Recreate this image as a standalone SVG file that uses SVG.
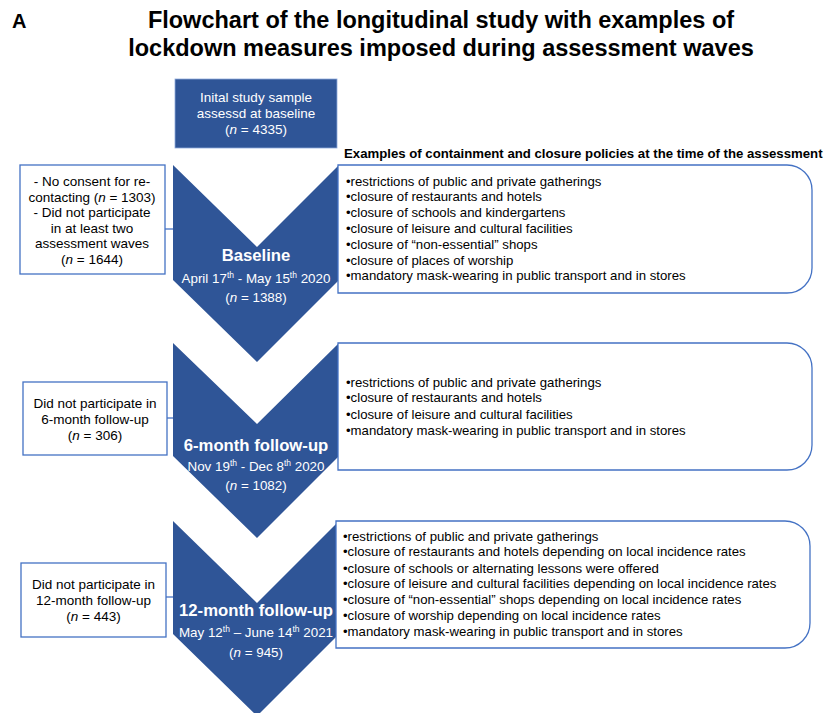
<svg xmlns="http://www.w3.org/2000/svg" width="827" height="713" viewBox="0 0 827 713">
<style>
text{font-family:"Liberation Sans",Arial,sans-serif;fill:#000}
.title{font-size:23.5px;font-weight:bold;text-anchor:middle}
.hdr{font-size:13.2px;font-weight:bold}
.li{font-size:13.2px}
.lb{font-size:13.5px;text-anchor:middle}
.w{fill:#fff;text-anchor:middle}
.wt{font-size:16.7px;font-weight:bold}
.wd{font-size:13.4px}
.chev{fill:#2F5597}
.box{fill:#fff;stroke:#4472C4;stroke-width:1.3}
.conn{stroke:#4472C4;stroke-width:1.3;fill:none}
</style>
<text x="12" y="28" font-size="20" font-weight="bold">A</text>
<text class="title" x="441" y="28">Flowchart of the longitudinal study with examples of</text>
<text class="title" x="441" y="56">lockdown measures imposed during assessment waves</text>

<g id="connectors">
<line class="conn" x1="165" y1="229" x2="174" y2="229"/>
<line class="conn" x1="167" y1="418" x2="174" y2="418"/>
<line class="conn" x1="166" y1="597" x2="174" y2="597"/>
</g>

<g id="start">
<rect x="175" y="79" width="162" height="69" fill="#2F5597" stroke="#8FAADC" stroke-width="0.8"/>
<text class="w" font-size="13.5" x="256" y="102">Inital study sample</text>
<text class="w" font-size="13.5" x="256" y="118">assessd at baseline</text>
<text class="w" font-size="13.5" x="256" y="134">(<tspan font-style="italic">n</tspan> = 4335)</text>
</g>

<text class="hdr" x="344" y="158">Examples of containment and closure policies at the time of the assessment</text>

<g id="baseline">
<polygon class="chev" points="173,165 257,247 339,165 339,280 257,362 173,280"/>
<text class="w wt" x="256" y="261">Baseline</text>
<text class="w wd" x="256" y="283">April 17<tspan font-size="8.5" dy="-5">th</tspan><tspan dy="5"> - May 15</tspan><tspan font-size="8.5" dy="-5">th</tspan><tspan dy="5"> 2020</tspan></text>
<text class="w wd" x="256" y="302">(<tspan font-style="italic">n</tspan> = 1388)</text>
</g>

<g id="followup6">
<polygon class="chev" points="173,343 257,424 339,343 339,456 257,538 173,456"/>
<text class="w wt" x="256" y="451">6-month follow-up</text>
<text class="w wd" x="256" y="471">Nov 19<tspan font-size="8.5" dy="-5">th</tspan><tspan dy="5"> - Dec 8</tspan><tspan font-size="8.5" dy="-5">th</tspan><tspan dy="5"> 2020</tspan></text>
<text class="w wd" x="256" y="490">(<tspan font-style="italic">n</tspan> = 1082)</text>
</g>

<g id="followup12">
<polygon class="chev" points="173,521 257,603 339,521 339,634 257,716 173,634"/>
<text class="w wt" x="256" y="616">12-month follow-up</text>
<text class="w wd" x="256" y="637">May 12<tspan font-size="8.5" dy="-5">th</tspan><tspan dy="5"> – June 14</tspan><tspan font-size="8.5" dy="-5">th</tspan><tspan dy="5"> 2021</tspan></text>
<text class="w wd" x="256" y="657">(<tspan font-style="italic">n</tspan> = 945)</text>
</g>

<g id="excl1">
<rect class="box" x="20" y="165" width="145" height="109"/>
<text class="lb" x="92" y="186">- No consent for re-</text>
<text class="lb" x="92" y="201.5">contacting (<tspan font-style="italic">n</tspan> = 1303)</text>
<text class="lb" x="92" y="217">- Did not participate</text>
<text class="lb" x="92" y="232.5">in at least two</text>
<text class="lb" x="92" y="248">assessment waves</text>
<text class="lb" x="92" y="264">(<tspan font-style="italic">n</tspan> = 1644)</text>
</g>

<g id="excl2">
<rect class="box" x="23" y="382" width="144" height="73"/>
<text class="lb" x="95" y="408">Did not participate in</text>
<text class="lb" x="95" y="424">6-month follow-up</text>
<text class="lb" x="95" y="440">(<tspan font-style="italic">n</tspan> = 306)</text>
</g>

<g id="excl3">
<rect class="box" x="21" y="563" width="145" height="74"/>
<text class="lb" x="93.5" y="589">Did not participate in</text>
<text class="lb" x="93.5" y="605">12-month follow-up</text>
<text class="lb" x="93.5" y="621">(<tspan font-style="italic">n</tspan> = 443)</text>
</g>

<g id="policies1">
<path class="box" d="M338,165 H787 A25,25 0 0 1 812,190 V268 A25,25 0 0 1 787,293 H338 Z"/>
<text class="li" x="346" y="185.5">•restrictions of public and private gatherings</text>
<text class="li" x="346" y="201.3">•closure of restaurants and hotels</text>
<text class="li" x="346" y="217.1">•closure of schools and kindergartens</text>
<text class="li" x="346" y="232.9">•closure of leisure and cultural facilities</text>
<text class="li" x="346" y="248.7">•closure of “non-essential” shops</text>
<text class="li" x="346" y="264.5">•closure of places of worship</text>
<text class="li" x="346" y="280.3">•mandatory mask-wearing in public transport and in stores</text>
</g>

<g id="policies2">
<path class="box" d="M338,343 H787 A25,25 0 0 1 812,368 V445 A25,25 0 0 1 787,470 H338 Z"/>
<text class="li" x="346" y="386.5">•restrictions of public and private gatherings</text>
<text class="li" x="346" y="402.3">•closure of restaurants and hotels</text>
<text class="li" x="346" y="418.6">•closure of leisure and cultural facilities</text>
<text class="li" x="346" y="434.5">•mandatory mask-wearing in public transport and in stores</text>
</g>

<g id="policies3">
<path class="box" d="M336,521 H785 A25,25 0 0 1 810,546 V623 A25,25 0 0 1 785,648 H336 Z"/>
<text class="li" x="343" y="540.5">•restrictions of public and private gatherings</text>
<text class="li" x="343" y="556.3">•closure of restaurants and hotels depending on local incidence rates</text>
<text class="li" x="343" y="572.5">•closure of schools or alternating lessons were offered</text>
<text class="li" x="343" y="588">•closure of leisure and cultural facilities depending on local incidence rates</text>
<text class="li" x="343" y="604">•closure of “non-essential” shops depending on local incidence rates</text>
<text class="li" x="343" y="619.7">•closure of worship depending on local incidence rates</text>
<text class="li" x="343" y="636">•mandatory mask-wearing in public transport and in stores</text>
</g>
</svg>
